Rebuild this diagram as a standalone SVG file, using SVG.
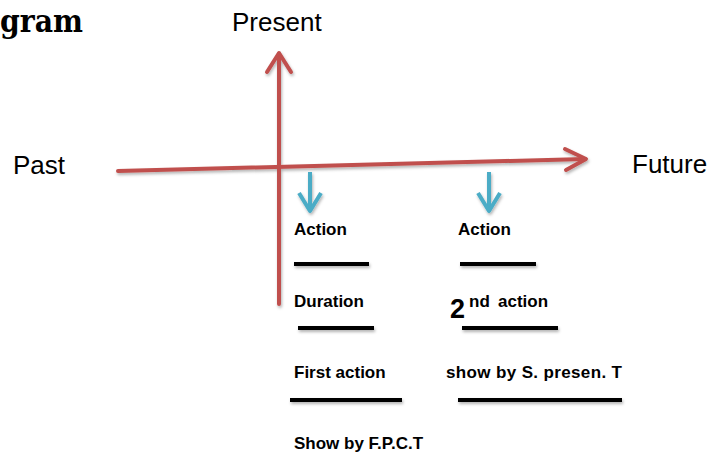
<svg xmlns="http://www.w3.org/2000/svg" width="718" height="453" viewBox="0 0 718 453">
<defs>
<filter id="sh" x="-20%" y="-20%" width="140%" height="160%">
<feDropShadow dx="1" dy="2" stdDeviation="1.5" flood-color="#000" flood-opacity="0.3"/>
</filter>
</defs>
<style>
.red{stroke:#c0504d;stroke-width:4;fill:none;stroke-linecap:round;stroke-linejoin:round}
.blue{stroke:#4bacc6;stroke-width:4;fill:none;stroke-linejoin:round}
.bar{stroke:#000;stroke-width:4}
.lbl{font-family:"Liberation Sans",Arial,sans-serif;font-size:26px;fill:#000}
.b{font-family:"Liberation Sans",Arial,sans-serif;font-size:17px;font-weight:bold;fill:#000}
.big{font-size:27px}
</style>
<rect width="718" height="453" fill="#fff"/>
<text x="0" y="32" font-family="'DejaVu Serif',serif" font-size="32" font-weight="bold" fill="#000" textLength="83" lengthAdjust="spacingAndGlyphs">gram</text>
<g id="connectors" filter="url(#sh)">
<g class="red">
<path d="M279,304 L279,54"/>
<path d="M267,72 L279,53 L291,72"/>
<path d="M118,171 L585,159"/>
<path d="M565,149 L586,159 L566,170"/>
</g>
<g class="blue">
<path d="M310,172 L310,210"/>
<path d="M299,193 L310,211 L321,193"/>
<path d="M489,172 L489,210"/>
<path d="M478,193 L489,211 L500,193"/>
</g>
<g>
<line class="bar" x1="294" y1="264" x2="369" y2="264"/>
<line class="bar" x1="460" y1="264" x2="536" y2="264"/>
<line class="bar" x1="298" y1="328" x2="374" y2="328"/>
<line class="bar" x1="462" y1="328" x2="558" y2="328"/>
<line class="bar" x1="290" y1="400" x2="402" y2="400"/>
<line class="bar" x1="458" y1="400" x2="622" y2="400"/>
</g>
</g>
<g id="present"><text class="lbl" x="232" y="31">Present</text></g>
<g id="past"><text class="lbl" x="13" y="174">Past</text></g>
<g id="future"><text class="lbl" x="632" y="173">Future</text></g>
<g id="action1"><text class="b" x="294" y="235">Action</text></g>
<g id="action2"><text class="b" x="458" y="235">Action</text></g>
<g id="duration"><text class="b" x="294" y="307">Duration</text></g>
<g id="second-action"><text class="b big" x="450" y="318">2</text><text class="b" x="469" y="307">nd</text><text class="b" x="498" y="307">action</text></g>
<g id="first-action"><text class="b" x="294" y="378">First action</text></g>
<g id="show-s"><text class="b" x="446" y="378" textLength="176">show by S. presen. T</text></g>
<g id="show-f"><text class="b" x="294" y="449">Show by F.P.C.T</text></g>
</svg>
